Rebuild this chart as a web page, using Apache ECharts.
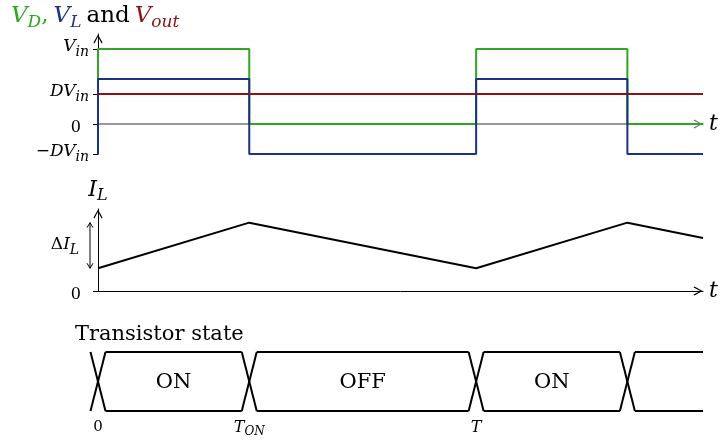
<!DOCTYPE html>
<html>
<head>
<meta charset="utf-8">
<script src="https://cdn.jsdelivr.net/npm/echarts@6/dist/echarts.min.js"></script>
<style>
  html, body { margin: 0; padding: 0; background: #fff; }
  #main { width: 722px; height: 440px; }
</style>
</head>
<body>
<div id="main"></div>
<script>
// time in units of the period T, D = T_ON / T = 0.4
var edges = [0, 0.4, 1, 1.4, 1.6];          // switching instants, last one = end of plot
var vDStart = 0, vD = [1, 0, 1, 0];          // V_D per interval (V_in = 1)
var vLStart = -0.4, vL = [0.6, -0.4, 0.6, -0.4]; // V_L per interval
var vOut = 0.4;                               // D*V_in
var iL = [1, 3, 1, 3, 2.33];                  // inductor current at each edge
var iLRipple = [1, 3];                        // low / high for Delta I_L
var states = ['ON', 'OFF', 'ON', ''];         // transistor state per interval

var topTicks = [-0.4, 0, 0.4, 1];
var topTickLabels = ['−DV_in', '0', 'DV_in', 'V_in'];
var timeTicks = [0, 0.4, 1];
var timeTickLabels = ['0', 'T_ON', 'T'];

var GREEN = '#32a622', BLUE = '#1c3282', RED = '#8c1414';
var SERIF = '"DejaVu Serif", "Liberation Serif", serif';

function steps(start, levels) {
  var pts = [[edges[0], start]];
  levels.forEach(function (v, i) {
    pts.push([edges[i], v], [edges[i + 1], v]);
  });
  return pts;
}

// "V_in" -> rich text with italic subscript, digits stay upright
function sub(txt) {
  if (/^[0-9]+$/.test(txt)) return '{z|' + txt + '}';
  var p = txt.split('_');
  var head = p[0], pre = '';
  if (head.charAt(0) === '−') { pre = '{n|−}'; head = head.slice(1); }
  return pre + '{v|' + head + '}' + (p[1] ? '{s|' + p[1] + '}' : '');
}

function richSet(big, small, drop, zeroPad, zeroDrop) {
  return {
    n: { fontFamily: SERIF, fontSize: big, color: '#000', verticalAlign: 'top', lineHeight: big + 2 },
    z: { fontFamily: SERIF, fontSize: big - 1, color: '#000', verticalAlign: 'top', lineHeight: big + 2, padding: [zeroDrop, zeroPad, 0, 0] },
    v: { fontFamily: SERIF, fontStyle: 'italic', fontSize: big, color: '#000', verticalAlign: 'top', lineHeight: big + 2 },
    s: { fontFamily: SERIF, fontStyle: 'italic', fontSize: small, color: '#000', verticalAlign: 'top', padding: [drop, 0, 0, 0] }
  };
}
var richTick = richSet(17, 14, 7, 8, 5);
var richTime = richSet(16, 12, 6, 0, 0);

var chevron = 'path://M0,0 L5,9 L4,10 L0,2.4 L-4,10 L-5,9 Z';
var arrowLine = function (color, width) {
  return { show: true, onZero: true, lineStyle: { color: color, width: width },
           symbol: ['none', chevron], symbolSize: [9, 10], symbolOffset: [0, -5] };
};

function xAxisBase(grid) {
  return {
    type: 'value', gridIndex: grid, min: 0, max: 1.6,
    splitLine: { show: false }, axisTick: { show: false }, axisLabel: { show: false }
  };
}

function renderDelta(params, api) {
  var lo = api.coord([0, api.value(0)]);
  var hi = api.coord([0, api.value(1)]);
  var x = lo[0] - 8, y1 = lo[1], y2 = hi[1];
  var st = { stroke: '#000', fill: null, lineWidth: 1 };
  return {
    type: 'group',
    children: [
      { type: 'line', shape: { x1: x, y1: y1, x2: x, y2: y2 }, style: st },
      { type: 'polyline', shape: { points: [[x - 3, y2 + 5], [x, y2], [x + 3, y2 + 5]] }, style: st },
      { type: 'polyline', shape: { points: [[x - 3, y1 - 5], [x, y1], [x + 3, y1 - 5]] }, style: st },
      { type: 'text', x: x - 25, y: (y1 + y2) / 2 + 1,
        style: { text: '{n|Δ}{v|I}{s|L}', align: 'center', verticalAlign: 'middle', rich: richTick } }
    ]
  };
}

function renderState(params, api) {
  var t0 = api.value(0), t1 = api.value(1);
  var a = api.coord([t0, 1]), b = api.coord([t1, 0]);
  var x1 = a[0], x2 = b[0], yt = a[1], yb = b[1];
  var hw = 7.5;
  var last = params.dataIndex === params.dataInsideLength - 1;
  var xe = last ? x2 : x2 - hw;
  var st = { stroke: '#000', fill: null, lineWidth: 2 };
  return {
    type: 'group',
    children: [
      { type: 'line', shape: { x1: x1 - hw, y1: yt, x2: x1 + hw, y2: yb }, style: st },
      { type: 'line', shape: { x1: x1 - hw, y1: yb, x2: x1 + hw, y2: yt }, style: st },
      { type: 'line', shape: { x1: x1 + hw, y1: yt, x2: xe, y2: yt }, style: st },
      { type: 'line', shape: { x1: x1 + hw, y1: yb, x2: xe, y2: yb }, style: st },
      { type: 'text', x: (x1 + x2) / 2, y: (yt + yb) / 2 + 1,
        style: { text: api.value(2), align: 'center', verticalAlign: 'middle',
                 fontFamily: SERIF, fontSize: 21, fill: '#000' } }
    ]
  };
}

var stateData = states.map(function (s, i) { return [edges[i], edges[i + 1], s]; });
var iLData = edges.map(function (t, i) { return [t, iL[i]]; });

function titleRich(color) {
  return {
    main: { fontFamily: SERIF, fontStyle: 'italic', fontWeight: 'normal', fontSize: 23, color: color, verticalAlign: 'top', lineHeight: 25 },
    sub: { fontFamily: SERIF, fontStyle: 'italic', fontWeight: 'normal', fontSize: 17, color: color, verticalAlign: 'top', padding: [9, 0, 0, 0] }
  };
}
var tg = titleRich(GREEN), tb = titleRich(BLUE), tr = titleRich(RED);

var myChart = echarts.init(document.getElementById('main'));
myChart.setOption({
  animation: false,
  backgroundColor: '#fff',
  title: [
    {
      text: '{g|V}{gs|D}{gc|,} {b|V}{bs|L} {k|and} {r|V}{rs|out}',
      left: 11, top: 5, padding: 0,
      textStyle: {
        rich: {
          g: tg.main, gs: tg.sub,
          gc: { fontFamily: SERIF, fontWeight: 'normal', fontSize: 23, color: GREEN, verticalAlign: 'top', lineHeight: 25 },
          b: tb.main, bs: tb.sub,
          k: { fontFamily: SERIF, fontWeight: 'normal', fontSize: 23, color: '#000', verticalAlign: 'top', lineHeight: 25 },
          r: tr.main, rs: tr.sub
        }
      }
    },
    {
      text: 'Transistor state', left: 75, top: 324, padding: 0,
      textStyle: { fontFamily: SERIF, fontSize: 21, fontWeight: 'normal', color: '#000' }
    }
  ],
  grid: [
    { left: 98, width: 605, top: 34, height: 120 },
    { left: 98, width: 605, top: 209, height: 82 },
    { left: 98, width: 605, top: 352, height: 59 }
  ],
  xAxis: [
    Object.assign(xAxisBase(0), {
      axisLine: arrowLine('#777', 1.5),
      name: 't', nameGap: 6,
      nameTextStyle: { fontFamily: SERIF, fontStyle: 'italic', fontSize: 22, color: '#000' }
    }),
    Object.assign(xAxisBase(1), {
      axisLine: arrowLine('#000', 1),
      name: 't', nameGap: 6,
      nameTextStyle: { fontFamily: SERIF, fontStyle: 'italic', fontSize: 22, color: '#000' }
    }),
    Object.assign(xAxisBase(2), {
      axisLine: { show: false },
      axisLabel: {
        show: true, customValues: timeTicks, margin: 9, rich: richTime,
        formatter: function (v) { return sub(timeTickLabels[timeTicks.indexOf(v)]); }
      }
    })
  ],
  yAxis: [
    {
      type: 'value', gridIndex: 0, min: -0.4, max: 1.2,
      splitLine: { show: false },
      axisLine: Object.assign(arrowLine('#000', 1), { onZero: false }),
      axisTick: { show: true, customValues: topTicks, length: 5, lineStyle: { color: '#000' } },
      axisLabel: {
        customValues: topTicks, margin: 9, rich: richTick,
        formatter: function (v) { return sub(topTickLabels[topTicks.indexOf(v)]); }
      }
    },
    {
      type: 'value', gridIndex: 1, min: 0, max: 3.6,
      splitLine: { show: false },
      axisLine: Object.assign(arrowLine('#000', 1), { onZero: false }),
      axisTick: { show: true, customValues: [0], length: 5, lineStyle: { color: '#000' } },
      axisLabel: {
        customValues: [0], margin: 9, rich: richTick,
        formatter: function () { return sub('0'); }
      },
      name: '{v|I}{s|L}', nameLocation: 'end', nameGap: 5,
      nameTextStyle: { rich: {
        v: { fontFamily: SERIF, fontStyle: 'italic', fontSize: 22, color: '#000', verticalAlign: 'top', lineHeight: 24 },
        s: { fontFamily: SERIF, fontStyle: 'italic', fontSize: 16, color: '#000', verticalAlign: 'top', padding: [9, 0, 0, 0] }
      } }
    },
    {
      type: 'value', gridIndex: 2, min: 0, max: 1, show: false
    }
  ],
  series: [
    { type: 'line', xAxisIndex: 0, yAxisIndex: 0, data: steps(vDStart, vD), symbol: 'none',
      lineStyle: { color: GREEN, width: 2 } },
    { type: 'line', xAxisIndex: 0, yAxisIndex: 0, data: steps(vLStart, vL), symbol: 'none',
      lineStyle: { color: BLUE, width: 2 } },
    { type: 'line', xAxisIndex: 0, yAxisIndex: 0, data: [[edges[0], vOut], [edges[edges.length - 1], vOut]],
      symbol: 'none', lineStyle: { color: RED, width: 2 } },
    { type: 'line', xAxisIndex: 1, yAxisIndex: 1, data: iLData, symbol: 'none',
      lineStyle: { color: '#000', width: 2 } },
    { type: 'custom', xAxisIndex: 1, yAxisIndex: 1, clip: false, renderItem: renderDelta,
      data: [iLRipple] },
    { type: 'custom', xAxisIndex: 2, yAxisIndex: 2, clip: false, renderItem: renderState,
      data: stateData }
  ]
});
</script>
</body>
</html>
